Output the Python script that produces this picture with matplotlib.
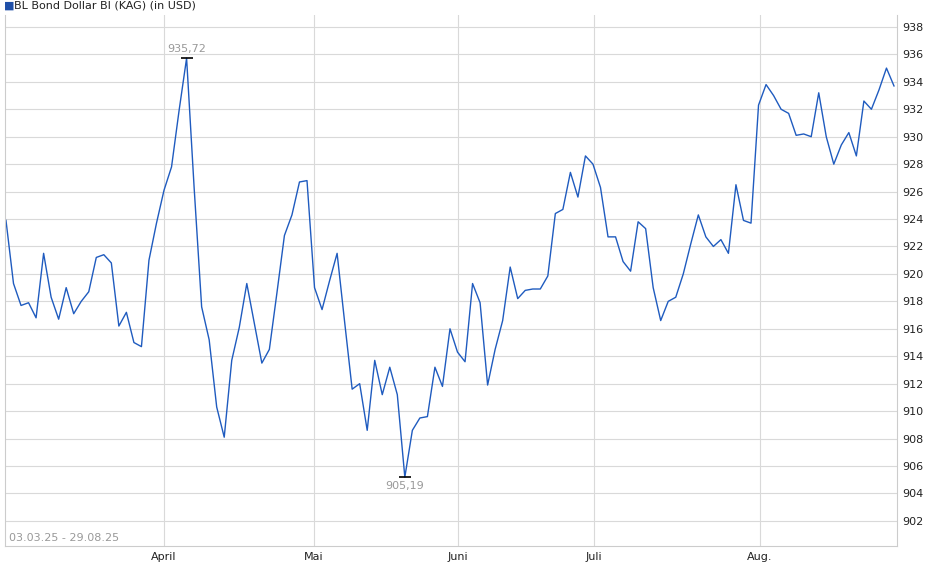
import matplotlib
matplotlib.use("Agg")
import matplotlib.pyplot as plt

values = [923.9, 919.3, 917.7, 917.9, 916.8, 921.5, 918.3, 916.7, 919.0, 917.1,
          918.0, 918.7, 921.2, 921.4, 920.8, 916.2, 917.2, 915.0, 914.7, 921.0,
          923.7, 926.1, 927.8, 931.9, 935.72, 926.3, 917.6, 915.2, 910.3, 908.1,
          913.7, 916.1, 919.3, 916.4, 913.5, 914.5, 918.6, 922.8, 924.3, 926.7,
          926.8, 919.0, 917.4, 919.5, 921.5, 916.5, 911.6, 912.0, 908.6, 913.7,
          911.2, 913.2, 911.2, 905.19, 908.6, 909.5, 909.6, 913.2, 911.8, 916.0,
          914.3, 913.6, 919.3, 917.9, 911.9, 914.5, 916.6, 920.5, 918.2, 918.8,
          918.9, 918.9, 919.85, 924.4, 924.7, 927.4, 925.6, 928.6, 928.0, 926.3,
          922.7, 922.7, 920.9, 920.2, 923.8, 923.3, 919.0, 916.6, 918.0, 918.3,
          920.0, 922.2, 924.3, 922.7, 922.0, 922.5, 921.5, 926.5, 923.9, 923.7,
          932.3, 933.8, 933.0, 932.0, 931.7, 930.1, 930.2, 930.0, 933.2, 930.0,
          928.0, 929.4, 930.3, 928.6, 932.6, 932.0, 933.4, 935.0, 933.7]
month_labels = ["April", "Mai", "Juni", "Juli", "Aug."]
month_pos = [21.0, 40.9, 60.1, 78.1, 100.2]
yticks = list(range(902, 939, 2))
period = "03.03.25 - 29.08.25"
title = "BL Bond Dollar BI (KAG) (in USD)"

fig = plt.figure(figsize=(9.4, 5.79), dpi=100)
ax = fig.add_axes([5/940, 1-546/579, 892/940, 531/579])
x = list(range(len(values)))
ax.plot(x, values, color="#1f5bbf", lw=1.0)
ax.set_xlim(-0.13, 118.4)
ax.set_ylim(900.17, 938.87)
ax.yaxis.tick_right()
ax.set_yticks(yticks)
ax.set_yticklabels([str(v) for v in yticks], fontsize=8, color="#222222")
ax.set_xticks(month_pos)
ax.set_xticklabels(month_labels, fontsize=8, color="#222222")
ax.tick_params(length=0, pad=4)
ax.grid(True, color="#d9d9d9", lw=0.8)
for s in ax.spines.values():
    s.set_color("#cccccc")
    s.set_linewidth(0.8)
ax.spines["top"].set_visible(False)

imax = values.index(max(values)); imin = values.index(min(values))
ax.plot([imax], [values[imax]], marker="_", color="black", ms=8, mew=1.2)
ax.plot([imin], [values[imin]], marker="_", color="black", ms=8, mew=1.2)
ax.annotate(f"{values[imax]:.2f}".replace(".", ","), (imax, values[imax]), xytext=(0, 3),
            textcoords="offset points", ha="center", va="bottom", fontsize=8, color="#999999")
ax.annotate(f"{values[imin]:.2f}".replace(".", ","), (imin, values[imin]), xytext=(0, -3),
            textcoords="offset points", ha="center", va="top", fontsize=8, color="#999999")
ax.text(0.004, 0.005, period, transform=ax.transAxes, fontsize=8, color="#999999",
        ha="left", va="bottom")
fig.text(4/940, 1-6/579, "\u25a0", fontsize=8, color="#1f4fa8", va="center", ha="left")
fig.text(14/940, 1-6/579, title, fontsize=8, color="#222222", va="center", ha="left")
fig.savefig("out.png", dpi=100)
